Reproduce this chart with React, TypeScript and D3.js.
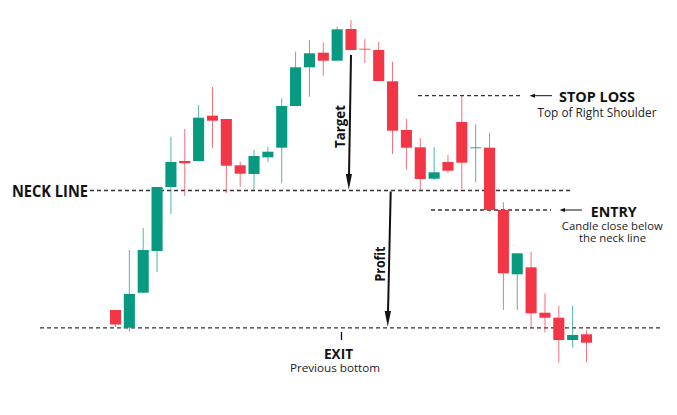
import React from "react";
import * as d3 from "d3";

// Candle data (price units)
const opens = [90, 72.3, 107.3, 149, 213, 239, 239, 284.3, 281, 234.7, 226, 242.7, 252.3, 294, 332.7, 347.3, 339.3, 371, 351, 350, 318.7, 270, 252.7, 221.3, 238, 278, 252, 252.3, 190, 125.7, 132.7, 87.3, 82.3, 60, 65.7];
const highs = [90, 150, 172, 213, 263.3, 271, 295, 313, 281, 238.3, 250, 253, 301.7, 348.3, 360, 357.7, 373.3, 380, 361, 358.3, 338.3, 281, 262, 252.7, 245, 304, 275.7, 267.3, 197.7, 146.7, 148.3, 106.7, 94.3, 94, 70];
const lows = [73, 68.3, 107.3, 128, 186, 204, 239, 252, 207, 213.3, 210, 238, 216.7, 294, 303.3, 324.3, 339.3, 350, 337, 319, 246, 230, 210, 220, 227, 211, 217.7, 188.3, 90, 90, 71.7, 67.7, 37.3, 52.3, 37.7];
const closes = [75.5, 106, 150, 213, 238, 236.7, 282.3, 279.3, 234.3, 226.3, 244, 248.3, 294, 332.7, 346.7, 339.3, 370.7, 350, 350.5, 319, 269.3, 252.3, 221, 227.7, 229.3, 237.3, 252.5, 190, 126.7, 146.7, 86.7, 82.3, 60, 65, 57.3];

// Levels
const neckLevel = 209.5;
const bottomLevel = 72.2;
const stopLevel = 304.3;
const entryLevel = 190;

const W = 677;
const H = 415;
const GREEN = "#089981";
const RED = "#f23645";
const FONT = "'Open Sans', 'DejaVu Sans', sans-serif";

export default function App() {
  const idx = d3.range(opens.length).map(String);
  const x = d3.scaleBand<string>().domain(idx).range([108.57, 593.43]).paddingInner(0.2).paddingOuter(0.1);
  const y = d3.scaleLinear().domain([0, 400]).range([400, 0]);
  const bw = x.bandwidth();

  const yNeck = y(neckLevel);
  const yBottom = y(bottomLevel);
  const yStop = y(stopLevel);
  const yEntry = y(entryLevel);

  const dashStyle = { stroke: "#333", strokeWidth: 1.3, strokeDasharray: "4 3" };

  return (
    <svg width={W} height={H} style={{ position: "absolute", left: 0, top: 0, background: "#fff" }}>
      <rect x={0} y={0} width={W} height={H} fill="#fff" />
      {/* dashed levels */}
      <line x1={90} x2={571} y1={yNeck} y2={yNeck} {...dashStyle} />
      <line x1={40} x2={660} y1={yBottom} y2={yBottom} {...dashStyle} />
      <line x1={418} x2={521} y1={yStop} y2={yStop} {...dashStyle} />
      <line x1={431} x2={551} y1={yEntry} y2={yEntry} {...dashStyle} />

      {/* candles */}
      {idx.map((k, i) => {
        const o = opens[i], c = closes[i], h = highs[i], l = lows[i];
        const up = c >= o;
        const col = up ? GREEN : RED;
        const cx = (x(k) as number) + bw / 2;
        const top = y(Math.max(o, c));
        const bot = y(Math.min(o, c));
        const doji = bot - top < 2;
        return (
          <g key={k}>
            <line x1={cx} x2={cx} y1={y(h)} y2={y(l)} stroke={col} strokeWidth={1} opacity={0.7} />
            {doji ? (
              <line x1={cx - bw / 2} x2={cx + bw / 2} y1={(top + bot) / 2} y2={(top + bot) / 2} stroke={col} strokeWidth={1.2} opacity={0.7} />
            ) : (
              <rect x={x(k)} y={top} width={bw} height={bot - top} fill={col} />
            )}
          </g>
        );
      })}

      {/* Target arrow */}
      <line x1={351} y1={55} x2={349} y2={176} stroke="#111" strokeWidth={2} />
      <path d={`M${345.8},${174} L${352},${174} L${348.8},${yNeck - 1} Z`} fill="#111" />
      <text transform="translate(344.5,126.5) rotate(-90)" textAnchor="middle" fontFamily={FONT} fontWeight={700} fontSize={13.5} fill="#111" textLength={43} lengthAdjust="spacingAndGlyphs">Target</text>

      {/* Profit arrow */}
      <line x1={390.7} y1={yNeck + 1} x2={388} y2={313} stroke="#111" strokeWidth={2} />
      <path d={`M${384.7},${311} L${391},${311} L${387.7},${yBottom - 1} Z`} fill="#111" />
      <text transform="translate(385,264) rotate(-90)" textAnchor="middle" fontFamily={FONT} fontWeight={700} fontSize={13.5} fill="#111" textLength={35} lengthAdjust="spacingAndGlyphs">Profit</text>

      {/* Neck line label */}
      <text x={12} y={196.5} fontFamily={FONT} fontWeight={700} fontSize={15.5} fill="#111" textLength={76} lengthAdjust="spacingAndGlyphs">NECK LINE</text>

      {/* Stop loss */}
      <line x1={532} x2={552} y1={yStop} y2={yStop} stroke="#111" strokeWidth={1} />
      <path d={`M${529.5},${yStop} L${535},${yStop - 2} L${535},${yStop + 2} Z`} fill="#111" />
      <text x={559} y={101.5} fontFamily={FONT} fontWeight={700} fontSize={14} fill="#111" textLength={76} lengthAdjust="spacingAndGlyphs">STOP LOSS</text>
      <text x={597} y={116.5} textAnchor="middle" fontFamily={FONT} fontSize={12} fill="#222" textLength={119} lengthAdjust="spacingAndGlyphs">Top of Right Shoulder</text>

      {/* Entry */}
      <line x1={562} x2={582} y1={yEntry} y2={yEntry} stroke="#111" strokeWidth={1} />
      <path d={`M${559.5},${yEntry} L${565},${yEntry - 2} L${565},${yEntry + 2} Z`} fill="#111" />
      <text x={590.7} y={216.5} fontFamily={FONT} fontWeight={700} fontSize={14.5} fill="#111" textLength={46} lengthAdjust="spacingAndGlyphs">ENTRY</text>
      <text x={612.3} y={229.5} textAnchor="middle" fontFamily={FONT} fontSize={11.5} fill="#222" textLength={101} lengthAdjust="spacingAndGlyphs">Candle close below</text>
      <text x={612.5} y={241.5} textAnchor="middle" fontFamily={FONT} fontSize={11.5} fill="#222" textLength={67} lengthAdjust="spacingAndGlyphs">the neck line</text>

      {/* Exit */}
      <line x1={341.5} x2={341.5} y1={332} y2={340} stroke="#111" strokeWidth={1.3} />
      <text x={338.5} y={358.5} textAnchor="middle" fontFamily={FONT} fontWeight={700} fontSize={14} fill="#111" textLength={29} lengthAdjust="spacingAndGlyphs">EXIT</text>
      <text x={335} y={371.5} textAnchor="middle" fontFamily={FONT} fontSize={11.5} fill="#222" textLength={90} lengthAdjust="spacingAndGlyphs">Previous bottom</text>
    </svg>
  );
}
